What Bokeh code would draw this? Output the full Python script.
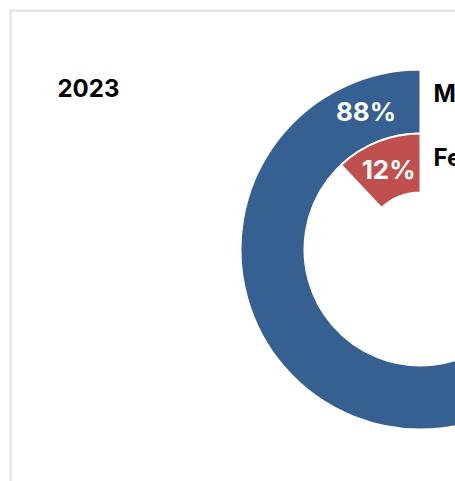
import math
from bokeh.plotting import figure
from bokeh.models import Range1d, ColumnDataSource, Label, Span
from bokeh.core.properties import value
from bokeh.embed import file_html
from bokeh.resources import INLINE

# ---- data ----
year = "2023"
categories = ["Male", "Female"]
shares = [88, 12]
share_labels = ["88%", "12%"]
colors = ["#366092", "#C0504D"]

# ---- ring geometry (styles) ----
outer_r = [180, 116]
inner_r = [116, 57]
FONT = "Inter"

start = [math.pi / 2] * len(shares)
end = [math.pi / 2 + 2 * math.pi * s / 100 for s in shares]
label_angle = math.pi / 2 + math.pi * min(shares) / 100
mid_r = [(o + i) / 2 for o, i in zip(outer_r, inner_r)]

src = ColumnDataSource(dict(
    cat=categories, share=shares, lab=share_labels, color=colors,
    outer=outer_r, inner=inner_r, start=start, end=end,
    lx=[r * math.cos(label_angle) for r in mid_r],
    ly=[r * math.sin(label_angle) for r in mid_r],
    cx=[13] * len(shares),
    cy=[o - 24 for o in outer_r],
    x0=[0] * len(shares), y0=[0] * len(shares),
))

x0, x1 = -411, 35
y0, y1 = -232, 240
p = figure(width=455, height=481, output_backend="svg", toolbar_location=None,
           x_range=Range1d(x0, x1), y_range=Range1d(y0, y1),
           min_border_left=9, min_border_top=9, min_border_right=0, min_border_bottom=0,
           border_fill_color="white", background_fill_color="white",
           outline_line_color=None)
p.axis.visible = False
p.grid.visible = False

p.add_layout(Span(location=x0 + 1, dimension="height", line_color="#dddddd", line_width=2))
p.add_layout(Span(location=y1 - 1, dimension="width", line_color="#dddddd", line_width=2))

p.annular_wedge(x="x0", y="y0", inner_radius="inner", outer_radius="outer",
                start_angle="start", end_angle="end", direction="anticlock",
                fill_color="color", line_color="white", line_width=2, source=src)

p.text(x="lx", y="ly", text="lab", source=src, text_color="white",
       text_font=value(FONT), text_font_style="bold", text_font_size="26px",
       text_align="center", text_baseline="middle")

p.text(x="cx", y="cy", text="cat", source=src, text_color="black",
       text_font=value(FONT), text_font_style="bold", text_font_size="24px",
       text_align="left", text_baseline="middle")

p.add_layout(Label(x=-363, y=162, text=year, text_font=FONT, text_font_style="bold",
                   text_font_size="24px", text_color="black",
                   text_align="left", text_baseline="middle"))

open("out.html", "w").write(file_html(p, INLINE))
